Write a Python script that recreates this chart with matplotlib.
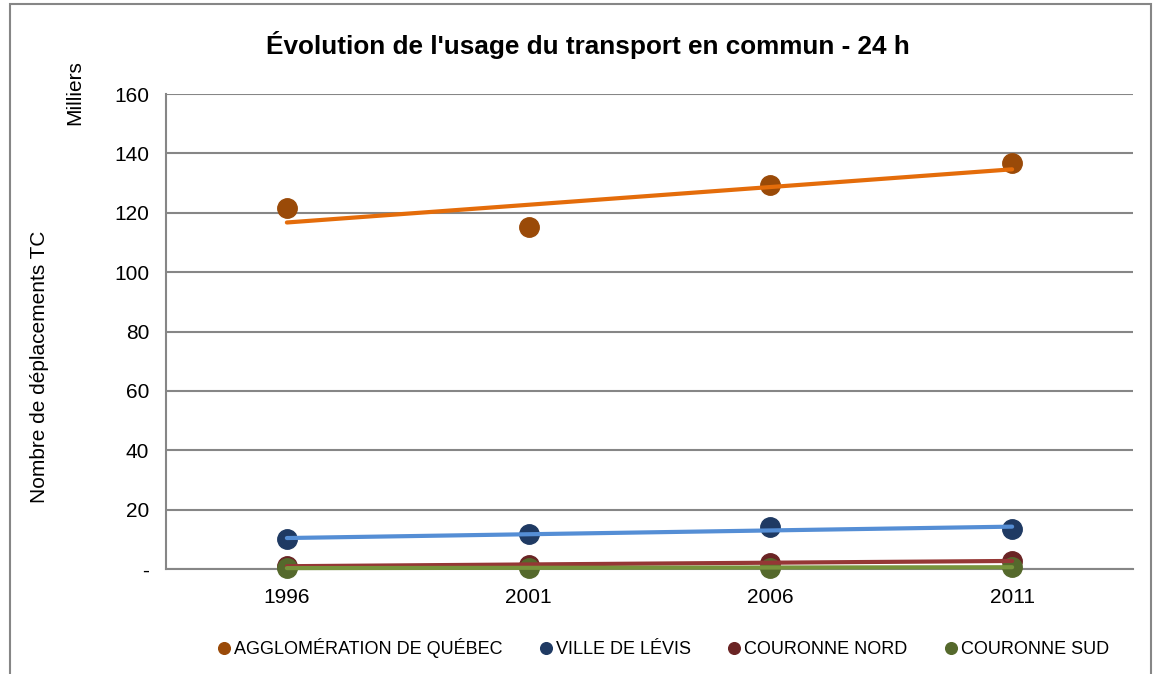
import numpy as np
import matplotlib
matplotlib.use("Agg")
import matplotlib.pyplot as plt
from matplotlib.patches import Rectangle
from matplotlib import font_manager

# condensed font like Arial Narrow, if available
names = set(f.name for f in font_manager.fontManager.ttflist)
fam = "Liberation Sans Narrow" if "Liberation Sans Narrow" in names else "Liberation Sans"
plt.rcParams['font.family'] = [fam, 'DejaVu Sans']

years = ["1996", "2001", "2006", "2011"]
series = ["AGGLOMÉRATION DE QUÉBEC", "VILLE DE LÉVIS", "COURONNE NORD", "COURONNE SUD"]
agglo = [121.5, 115.2, 129.3, 136.7]
levis = [10.0, 11.7, 14.3, 13.4]
nord = [1.0, 1.5, 2.0, 2.8]
sud = [0.3, 0.4, 0.5, 0.6]
yticks = [0, 20, 40, 60, 80, 100, 120, 140, 160]
ytick_labels = ["-", "20", "40", "60", "80", "100", "120", "140", "160"]

marker_colors = ["#9A4A08", "#1F3A63", "#6A2424", "#55692C"]
trend_colors = ["#E46C0A", "#558ED5", "#953735", "#77933C"]

fig = plt.figure(figsize=(11.6, 6.74), dpi=100)
ax = fig.add_axes([166/1160, 1-569/674, (1133-166)/1160, (569-94)/674])

x = np.arange(len(years))
data = [agglo, levis, nord, sud]
# markers first, trend lines (linear fit) on top
for vals, mc, name in zip(data, marker_colors, series):
    ax.plot(x, vals, 'o', color=mc, markersize=14, label=name, zorder=3, clip_on=False)
for vals, tc in zip(data, trend_colors):
    p = np.polyfit(x, vals, 1)
    ax.plot(x, np.polyval(p, x), '-', color=tc, lw=3, zorder=4,
            solid_capstyle='round', clip_on=False)

ax.set_xlim(-0.5, 3.5)
ax.set_ylim(0, 160)
ax.set_xticks(x)
ax.set_xticklabels(years, fontsize=15)
ax.set_yticks(yticks)
ax.set_yticklabels(ytick_labels, fontsize=15)
ax.tick_params(length=0, pad=12)
ax.tick_params(axis='x', pad=14)
ax.yaxis.grid(True, color="#868686", lw=1.5)
ax.set_axisbelow(True)
for s in ['top', 'right']:
    ax.spines[s].set_visible(False)
for s in ['left', 'bottom']:
    ax.spines[s].set_color("#868686")
    ax.spines[s].set_linewidth(1.5)

fig.text(588/1160, 1-45/674, "Évolution de l'usage du transport en commun - 24 h",
         ha='center', va='center', fontsize=18.8, fontweight='bold')
fig.text(40/1160, 1-367/674, "Nombre de déplacements TC", rotation=90,
         ha='center', va='center', fontsize=15)
fig.text(75/1160, 1-93/674, "Milliers", rotation=90,
         ha='center', va='center', fontsize=15)

leg = fig.legend(loc='center', bbox_to_anchor=(662/1160, 1-648/674), ncol=4,
                 frameon=False, fontsize=13, handletextpad=0.05,
                 columnspacing=1.9, markerscale=0.6, handlelength=1.0)

fig.patches.append(Rectangle((10/1160, -0.1), 1141/1160, 1.1 - 4/674,
                             transform=fig.transFigure, fill=False,
                             edgecolor="#868686", lw=1.5))

fig.savefig("out.png", dpi=100)
